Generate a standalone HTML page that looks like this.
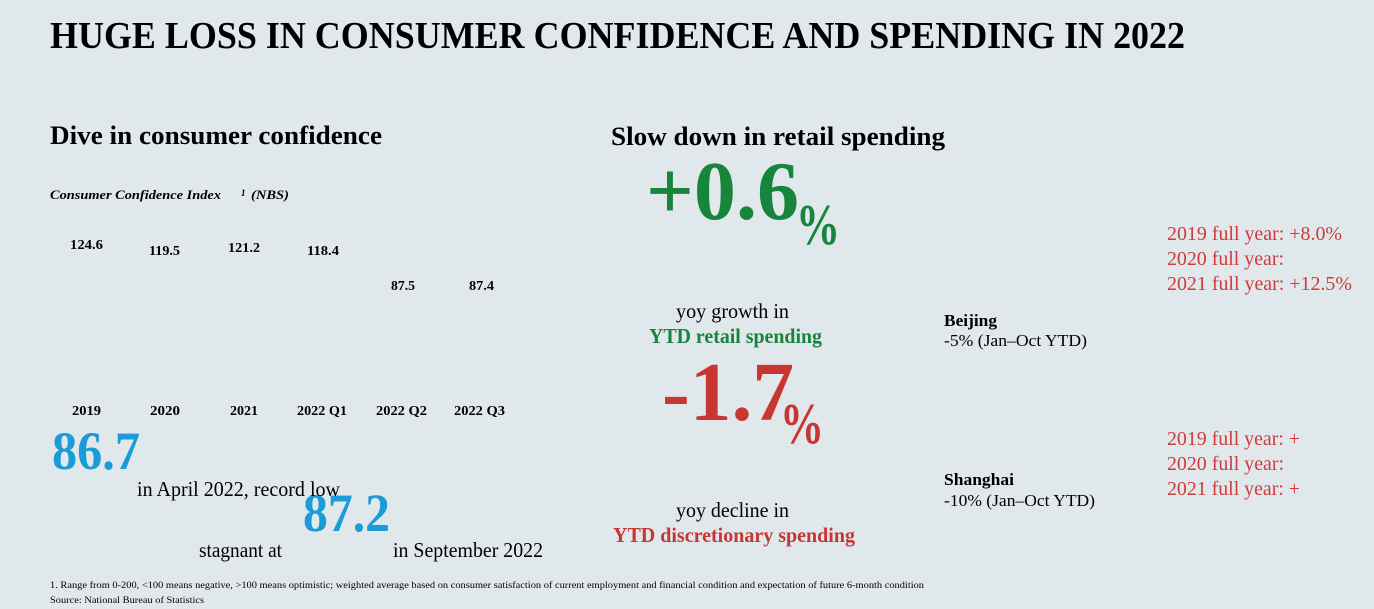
<!DOCTYPE html>
<html><head><meta charset="utf-8"><style>
html,body{margin:0;padding:0;background:#e1e8eb;}
svg{display:block;font-family:"Liberation Serif",serif;}
</style></head><body>
<svg width="1374" height="609" viewBox="0 0 1374 609" xmlns="http://www.w3.org/2000/svg">
<rect width="1374" height="609" fill="#e1e8eb"/>
<g font-weight="bold" fill="#000">
<text x="50" y="48" font-size="38" textLength="1135" lengthAdjust="spacingAndGlyphs">HUGE LOSS IN CONSUMER CONFIDENCE AND SPENDING IN 2022</text>
<text x="50" y="144" font-size="26" textLength="332" lengthAdjust="spacingAndGlyphs">Dive in consumer confidence</text>
<text x="611" y="145" font-size="26" textLength="334" lengthAdjust="spacingAndGlyphs">Slow down in retail spending</text>
<g font-style="italic" font-size="13">
<text x="50" y="199" textLength="171" lengthAdjust="spacingAndGlyphs">Consumer Confidence Index</text>
<text x="241" y="196" font-size="9">1</text>
<text x="251" y="199" textLength="38" lengthAdjust="spacingAndGlyphs">(NBS)</text>
</g>
<g font-size="14">
<text x="70" y="249" textLength="33" lengthAdjust="spacingAndGlyphs">124.6</text>
<text x="149" y="255" textLength="31" lengthAdjust="spacingAndGlyphs">119.5</text>
<text x="228" y="252" textLength="32" lengthAdjust="spacingAndGlyphs">121.2</text>
<text x="307" y="255" textLength="32" lengthAdjust="spacingAndGlyphs">118.4</text>
<text x="391" y="290" textLength="24" lengthAdjust="spacingAndGlyphs">87.5</text>
<text x="469" y="290" textLength="25" lengthAdjust="spacingAndGlyphs">87.4</text>
<text x="72" y="415" textLength="29" lengthAdjust="spacingAndGlyphs">2019</text>
<text x="150" y="415" textLength="30" lengthAdjust="spacingAndGlyphs">2020</text>
<text x="230" y="415" textLength="28" lengthAdjust="spacingAndGlyphs">2021</text>
<text x="297" y="415" textLength="50" lengthAdjust="spacingAndGlyphs">2022 Q1</text>
<text x="376" y="415" textLength="51" lengthAdjust="spacingAndGlyphs">2022 Q2</text>
<text x="454" y="415" textLength="51" lengthAdjust="spacingAndGlyphs">2022 Q3</text>
</g>
<text x="52" y="469" font-size="54" fill="#1b9bd8" textLength="88" lengthAdjust="spacingAndGlyphs">86.7</text>
<text x="303" y="531" font-size="54" fill="#1b9bd8" textLength="87" lengthAdjust="spacingAndGlyphs">87.2</text>
<text x="646" y="219" font-size="84" fill="#17853b" textLength="153" lengthAdjust="spacingAndGlyphs">+0.6</text>
<text x="796" y="244" font-size="58" fill="#17853b" textLength="44" lengthAdjust="spacingAndGlyphs">%</text>
<text x="662" y="420" font-size="84" fill="#c83634" textLength="132" lengthAdjust="spacingAndGlyphs">-1.7</text>
<text x="780" y="443" font-size="58" fill="#c83634" textLength="44" lengthAdjust="spacingAndGlyphs">%</text>
<text x="649" y="343" font-size="21" fill="#17853b" textLength="173" lengthAdjust="spacingAndGlyphs">YTD retail spending</text>
<text x="613" y="542" font-size="21" fill="#c83634" textLength="242" lengthAdjust="spacingAndGlyphs">YTD discretionary spending</text>
<text x="944" y="326" font-size="17" textLength="53" lengthAdjust="spacingAndGlyphs">Beijing</text>
<text x="944" y="485" font-size="17" textLength="70" lengthAdjust="spacingAndGlyphs">Shanghai</text>
</g>
<g fill="#000" font-size="21">
<text x="137" y="496" textLength="203" lengthAdjust="spacingAndGlyphs">in April 2022, record low</text>
<text x="199" y="557" textLength="83" lengthAdjust="spacingAndGlyphs">stagnant at</text>
<text x="393" y="557" textLength="150" lengthAdjust="spacingAndGlyphs">in September 2022</text>
<text x="676" y="318" textLength="113" lengthAdjust="spacingAndGlyphs">yoy growth in</text>
<text x="676" y="517" textLength="113" lengthAdjust="spacingAndGlyphs">yoy decline in</text>
</g>
<g fill="#000" font-size="17">
<text x="944" y="346" textLength="143" lengthAdjust="spacingAndGlyphs">-5% (Jan–Oct YTD)</text>
<text x="944" y="506" textLength="151" lengthAdjust="spacingAndGlyphs">-10% (Jan–Oct YTD)</text>
</g>
<g fill="#d03a3a" font-size="20">
<text x="1167" y="240" textLength="175" lengthAdjust="spacingAndGlyphs">2019 full year: +8.0%</text>
<text x="1167" y="265" textLength="117" lengthAdjust="spacingAndGlyphs">2020 full year:</text>
<text x="1167" y="290" textLength="185" lengthAdjust="spacingAndGlyphs">2021 full year: +12.5%</text>
<text x="1167" y="445" textLength="133" lengthAdjust="spacingAndGlyphs">2019 full year: +</text>
<text x="1167" y="470" textLength="117" lengthAdjust="spacingAndGlyphs">2020 full year:</text>
<text x="1167" y="495" textLength="133" lengthAdjust="spacingAndGlyphs">2021 full year: +</text>
</g>
<g fill="#000" font-size="9.5">
<text x="50" y="588" textLength="874" lengthAdjust="spacingAndGlyphs">1. Range from 0-200, &lt;100 means negative, &gt;100 means optimistic; weighted average based on consumer satisfaction of current employment and financial condition and expectation of future 6-month condition</text>
<text x="50" y="603" textLength="154" lengthAdjust="spacingAndGlyphs">Source: National Bureau of Statistics</text>
</g>
</svg>
</body></html>
